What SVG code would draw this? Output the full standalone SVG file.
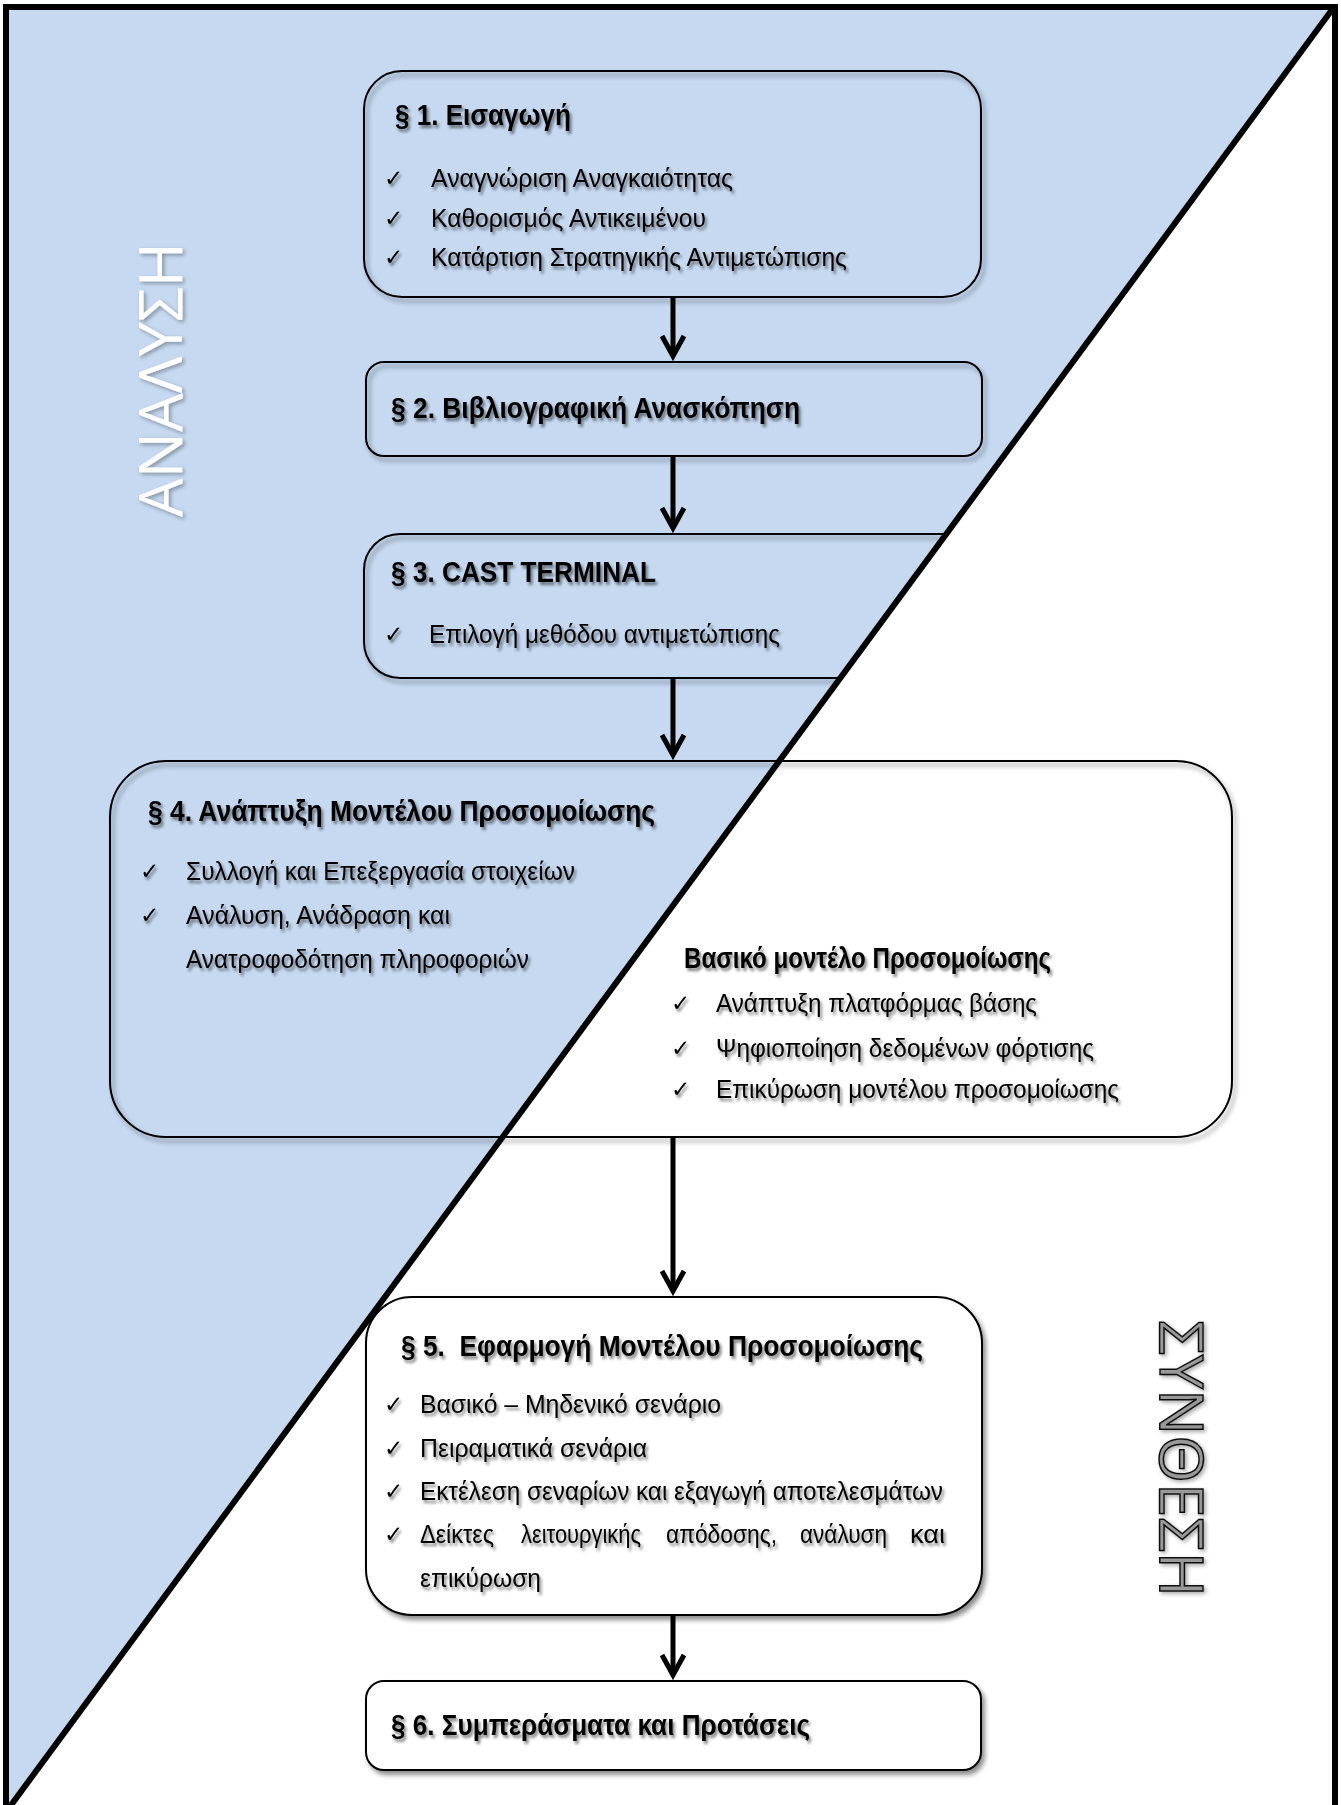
<svg xmlns="http://www.w3.org/2000/svg" width="1341" height="1805" viewBox="0 0 1341 1805">
  <style>
    .title { font-family: "Liberation Sans Narrow", "Liberation Sans", Arial, sans-serif; font-weight: bold; font-size: 29px; fill: #000; }
    .item { font-family: "Liberation Sans Narrow", "Liberation Sans", Arial, sans-serif; font-size: 25px; fill: #000; }
    .chk { font-family: "DejaVu Sans", sans-serif; font-size: 23px; fill: #000; }
    .box { fill: none; stroke: #000; stroke-width: 2; }
    .wbox { fill: #fff; stroke: #000; stroke-width: 2; }
    .conn { stroke: #000; stroke-width: 5; fill: none; }
    .side { font-family: "Open Sans", "DejaVu Sans", sans-serif; font-size: 61px; }
  </style>
  <defs>
    <filter id="txtShadow" x="-10%" y="-40%" width="130%" height="190%">
      <feGaussianBlur in="SourceAlpha" stdDeviation="1.6"/>
      <feOffset dx="2" dy="3"/>
      <feComponentTransfer><feFuncA type="linear" slope="0.5"/></feComponentTransfer>
      <feMerge><feMergeNode/><feMergeNode in="SourceGraphic"/></feMerge>
    </filter>
    <filter id="boxShadow" x="-5%" y="-10%" width="115%" height="130%">
      <feGaussianBlur in="SourceAlpha" stdDeviation="2.5"/>
      <feOffset dx="3" dy="4"/>
      <feComponentTransfer><feFuncA type="linear" slope="0.45"/></feComponentTransfer>
      <feMerge><feMergeNode/><feMergeNode in="SourceGraphic"/></feMerge>
    </filter>
    <filter id="sideShadow" x="-30%" y="-10%" width="170%" height="120%">
      <feGaussianBlur in="SourceAlpha" stdDeviation="2"/>
      <feOffset dx="2" dy="2"/>
      <feComponentTransfer><feFuncA type="linear" slope="0.35"/></feComponentTransfer>
      <feMerge><feMergeNode/><feMergeNode in="SourceGraphic"/></feMerge>
    </filter>
    <marker id="arr" markerUnits="userSpaceOnUse" viewBox="-24 -14 32 28" refX="0" refY="0" markerWidth="32" markerHeight="28" orient="auto">
      <path d="M-20,-11 L0,0 L-20,11" fill="none" stroke="#000" stroke-width="5" stroke-linejoin="miter"/>
    </marker>
  </defs>

  <!-- background: white page with blue upper-left triangle -->
  <rect x="0" y="0" width="1341" height="1805" fill="#fff"/>
  <polygon points="6,7 1334,7 6,1812" fill="#c6d9f1"/>

  <!-- side label, analysis half -->
  <g id="label-analysi" filter="url(#sideShadow)">
    <text class="side" transform="translate(182,517) rotate(-90)" fill="#fff" textLength="275" lengthAdjust="spacingAndGlyphs">ΑΝΑΛΥΣΗ</text>
  </g>

  <!-- §1 -->
  <g id="node-1">
    <rect class="box" x="364" y="71" width="617" height="226" rx="38" ry="38" filter="url(#boxShadow)"/>
    <g filter="url(#txtShadow)">
      <text class="title" x="395" y="125" textLength="176" lengthAdjust="spacingAndGlyphs">§ 1. Εισαγωγή</text>
      <text class="chk" x="384" y="186">✓</text>
      <text class="item" x="431" y="187" textLength="302" lengthAdjust="spacingAndGlyphs">Αναγνώριση Αναγκαιότητας</text>
      <text class="chk" x="384" y="226">✓</text>
      <text class="item" x="431" y="227" textLength="275" lengthAdjust="spacingAndGlyphs">Καθορισμός Αντικειμένου</text>
      <text class="chk" x="384" y="265">✓</text>
      <text class="item" x="431" y="266" textLength="416" lengthAdjust="spacingAndGlyphs">Κατάρτιση Στρατηγικής Αντιμετώπισης</text>
    </g>
  </g>

  <!-- §2 -->
  <g id="node-2">
    <rect class="box" x="366" y="362" width="616" height="94" rx="18" ry="18" filter="url(#boxShadow)"/>
    <g filter="url(#txtShadow)">
      <text class="title" x="391" y="418" textLength="409" lengthAdjust="spacingAndGlyphs">§ 2. Βιβλιογραφική Ανασκόπηση</text>
    </g>
  </g>

  <!-- §3 -->
  <g id="node-3">
    <rect class="box" x="364" y="534" width="617" height="144" rx="36" ry="36" filter="url(#boxShadow)"/>
    <g filter="url(#txtShadow)">
      <text class="title" x="391" y="582" textLength="265" lengthAdjust="spacingAndGlyphs">§ 3. CAST TERMINAL</text>
      <text class="chk" x="384" y="642">✓</text>
      <text class="item" x="429" y="643" textLength="351" lengthAdjust="spacingAndGlyphs">Επιλογή μεθόδου αντιμετώπισης</text>
    </g>
  </g>

  <!-- white lower-right triangle and the dividing diagonal -->
  <polygon points="1334,7 1334,1812 6,1812" fill="#fff"/>
  <line x1="1334" y1="7" x2="6" y2="1812" stroke="#000" stroke-width="6"/>

  <!-- §4 -->
  <g id="node-4">
    <rect class="box" x="110" y="761" width="1122" height="376" rx="56" ry="56" filter="url(#boxShadow)"/>
    <g filter="url(#txtShadow)">
      <text class="title" x="148" y="821" textLength="507" lengthAdjust="spacingAndGlyphs">§ 4. Ανάπτυξη Μοντέλου Προσομοίωσης</text>
      <text class="chk" x="140" y="879">✓</text>
      <text class="item" x="186" y="880" textLength="389" lengthAdjust="spacingAndGlyphs">Συλλογή και Επεξεργασία στοιχείων</text>
      <text class="chk" x="140" y="923">✓</text>
      <text class="item" x="186" y="924" textLength="264" lengthAdjust="spacingAndGlyphs">Ανάλυση, Ανάδραση και</text>
      <text class="item" x="186" y="968" textLength="343" lengthAdjust="spacingAndGlyphs">Ανατροφοδότηση πληροφοριών</text>
      <text class="title" x="684" y="968" font-size="26" textLength="367" lengthAdjust="spacingAndGlyphs">Βασικό μοντέλο Προσομοίωσης</text>
      <text class="chk" x="671" y="1011">✓</text>
      <text class="item" x="716" y="1012" textLength="321" lengthAdjust="spacingAndGlyphs">Ανάπτυξη πλατφόρμας βάσης</text>
      <text class="chk" x="671" y="1056">✓</text>
      <text class="item" x="716" y="1057" textLength="378" lengthAdjust="spacingAndGlyphs">Ψηφιοποίηση δεδομένων φόρτισης</text>
      <text class="chk" x="671" y="1097">✓</text>
      <text class="item" x="716" y="1098" textLength="403" lengthAdjust="spacingAndGlyphs">Επικύρωση μοντέλου προσομοίωσης</text>
    </g>
  </g>

  <!-- §5 -->
  <g id="node-5">
    <rect class="wbox" x="366" y="1297" width="616" height="318" rx="46" ry="46" filter="url(#boxShadow)"/>
    <g filter="url(#txtShadow)">
      <text class="title" x="401" y="1356" textLength="522" lengthAdjust="spacingAndGlyphs" xml:space="preserve">§ 5.  Εφαρμογή Μοντέλου Προσομοίωσης</text>
      <text class="chk" x="384" y="1412">✓</text>
      <text class="item" x="420" y="1413" textLength="301" lengthAdjust="spacingAndGlyphs">Βασικό – Μηδενικό σενάριο</text>
      <text class="chk" x="384" y="1456">✓</text>
      <text class="item" x="420" y="1457" textLength="227" lengthAdjust="spacingAndGlyphs">Πειραματικά σενάρια</text>
      <text class="chk" x="384" y="1499">✓</text>
      <text class="item" x="420" y="1500" textLength="523" lengthAdjust="spacingAndGlyphs">Εκτέλεση σεναρίων και εξαγωγή αποτελεσμάτων</text>
      <text class="chk" x="384" y="1542">✓</text>
      <!-- justified line: words spread to the full column width -->
      <text class="item" y="1543"><tspan x="420" textLength="74" lengthAdjust="spacingAndGlyphs">Δείκτες</tspan><tspan x="521" textLength="120" lengthAdjust="spacingAndGlyphs">λειτουργικής</tspan><tspan x="666" textLength="111" lengthAdjust="spacingAndGlyphs">απόδοσης,</tspan><tspan x="800" textLength="87" lengthAdjust="spacingAndGlyphs">ανάλυση</tspan><tspan x="910" textLength="35" lengthAdjust="spacingAndGlyphs">και</tspan></text>
      <text class="item" x="420" y="1587" textLength="121" lengthAdjust="spacingAndGlyphs">επικύρωση</text>
    </g>
  </g>

  <!-- §6 -->
  <g id="node-6">
    <rect class="wbox" x="366" y="1681" width="615" height="89" rx="18" ry="18" filter="url(#boxShadow)"/>
    <g filter="url(#txtShadow)">
      <text class="title" x="391" y="1735" textLength="419" lengthAdjust="spacingAndGlyphs">§ 6. Συμπεράσματα και Προτάσεις</text>
    </g>
  </g>

  <!-- side label, synthesis half -->
  <g id="label-synthesi" filter="url(#sideShadow)">
    <text class="side" transform="translate(1160,1320) rotate(90)" fill="#999" stroke="#111" stroke-width="1.5" textLength="277" lengthAdjust="spacingAndGlyphs">ΣΥΝΘΕΣΗ</text>
  </g>

  <!-- page frame -->
  <rect x="6" y="7" width="1329" height="1812" fill="none" stroke="#000" stroke-width="6"/>

  <!-- connectors -->
  <g id="connectors">
    <line class="conn" x1="673" y1="297" x2="673" y2="356" marker-end="url(#arr)"/>
    <line class="conn" x1="673" y1="456" x2="673" y2="528" marker-end="url(#arr)"/>
    <line class="conn" x1="673" y1="678" x2="673" y2="755" marker-end="url(#arr)"/>
    <line class="conn" x1="673" y1="1137" x2="673" y2="1291" marker-end="url(#arr)"/>
    <line class="conn" x1="673" y1="1615" x2="673" y2="1675" marker-end="url(#arr)"/>
  </g>
</svg>
